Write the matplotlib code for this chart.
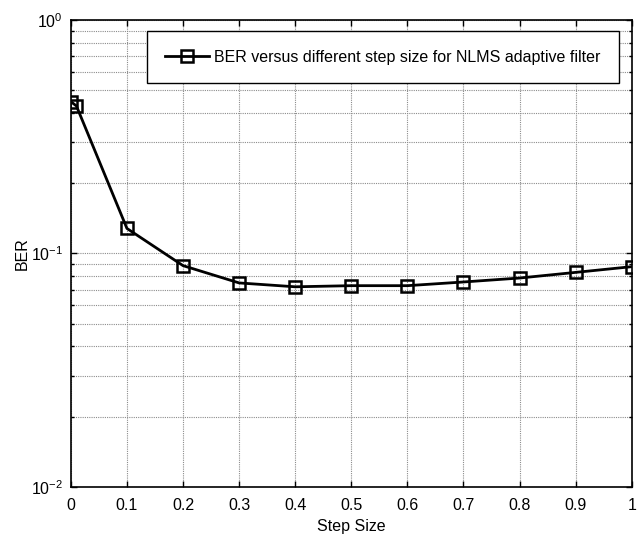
import matplotlib
matplotlib.use('Agg')
import matplotlib.pyplot as plt
from matplotlib.ticker import LogLocator, NullFormatter

plt.rcParams['font.family'] = ['Liberation Sans', 'DejaVu Sans']
plt.rcParams['mathtext.fontset'] = 'custom'
plt.rcParams['mathtext.rm'] = 'Liberation Sans'
plt.rcParams['mathtext.it'] = 'Liberation Sans'
plt.rcParams['axes.unicode_minus'] = False

# step sizes and measured bit error rate
step_size = [0.0, 0.01, 0.1, 0.2, 0.3, 0.4, 0.5, 0.6, 0.7, 0.8, 0.9, 1.0]
ber = [0.447, 0.428, 0.128, 0.0887, 0.0748, 0.0720, 0.0728, 0.0728, 0.0755, 0.0785, 0.0830, 0.0878]
x_ticks = [0, 0.1, 0.2, 0.3, 0.4, 0.5, 0.6, 0.7, 0.8, 0.9, 1]
x_ticklabels = ['0', '0.1', '0.2', '0.3', '0.4', '0.5', '0.6', '0.7', '0.8', '0.9', '1']
legend_label = 'BER versus different step size for NLMS adaptive filter'

fig = plt.figure(figsize=(6.44, 5.4), dpi=100)
ax = fig.add_axes([0.110, 0.0981, 0.871, 0.865])

ax.semilogy(step_size, ber, color='black', lw=2, marker='s', ms=8.5,
            mfc='none', mec='black', mew=1.8, label=legend_label)

ax.set_xlim(0, 1)
ax.set_ylim(1e-2, 1e0)
ax.set_xticks(x_ticks)
ax.set_xticklabels(x_ticklabels)
ax.yaxis.set_major_locator(LogLocator(base=10, numticks=10))
ax.yaxis.set_minor_locator(LogLocator(base=10, subs=range(2, 10), numticks=20))
ax.yaxis.set_minor_formatter(NullFormatter())

ax.grid(True, which='major', color='#8c8c8c', lw=0.8, linestyle=(0, (1, 1)))
ax.grid(True, which='minor', axis='y', color='#8c8c8c', lw=0.8, linestyle=(0, (1, 1)))

ax.tick_params(which='both', direction='in', top=True, right=True, labelsize=11.5, width=1)
ax.tick_params(which='major', length=4)
ax.tick_params(which='minor', length=2)
ax.tick_params(axis='x', which='major', pad=8)
ax.tick_params(axis='y', which='major', pad=5.5)
for s in ax.spines.values():
    s.set_linewidth(1.2)

ax.set_xlabel('Step Size', fontsize=11.5, labelpad=4)
ax.set_ylabel('BER', fontsize=11.5, labelpad=1)

leg = ax.legend(loc='upper right', bbox_to_anchor=(0.977, 0.976), borderaxespad=0,
                fancybox=False, edgecolor='black', framealpha=1, fontsize=11.5,
                handlelength=2.7, handletextpad=0.35, borderpad=1.15)
leg.get_frame().set_linewidth(1.0)

fig.savefig('out.png', dpi=100)
